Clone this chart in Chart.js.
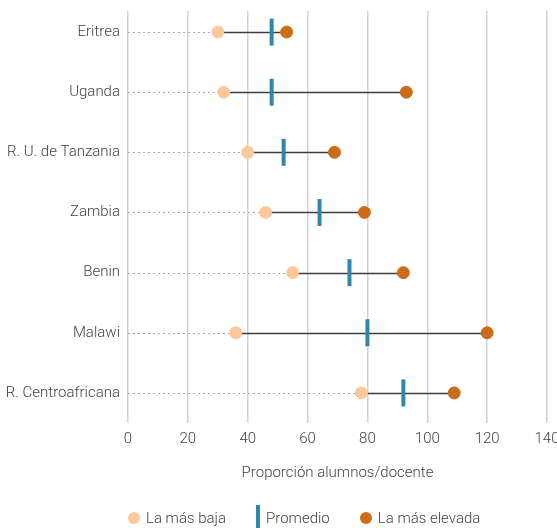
<!DOCTYPE html>
<html>
<head>
<meta charset="utf-8">
<script src="https://cdn.jsdelivr.net/npm/chart.js@4"></script>
<style>
  body { margin: 0; background: #fff; }
  #wrap { position: relative; width: 557px; height: 528px; }
  #legend {
    position: absolute; left: 128px; top: 505px; height: 26px;
    display: flex; align-items: center;
    font: 300 15px "Roboto", sans-serif; color: #444;
  }
  #legend .item { display: flex; align-items: center; margin-right: 30px; }
  #legend .dot { width: 12px; height: 12px; border-radius: 50%; margin-right: 6px; }
  #legend .bar { width: 4px; height: 26px; margin-right: 6px; }
</style>
</head>
<body>
<div id="wrap">
  <canvas id="chart" width="557" height="528"></canvas>
  <div id="legend"></div>
</div>
<script>
const countries = ["Eritrea", "Uganda", "R. U. de Tanzania", "Zambia", "Benin", "Malawi", "R. Centroafricana"];
const lowest = [30, 32, 40, 46, 55, 36, 78];
const average = [48, 48, 52, 64, 74, 80, 92];
const highest = [53, 93, 69, 79, 92, 120, 109];

const seriesNames = ["La más baja", "Promedio", "La más elevada"];
const xTicks = [0, 20, 40, 60, 80, 100, 120, 140];

const colLow = '#fcc79a';
const colAvg = '#2e88aa';
const colHigh = '#cc6c19';
const FONT = { family: 'Roboto, sans-serif', size: 15, weight: '300' };

const pts = arr => arr.map((v, i) => ({x: v, y: i}));

// dotted guide from zero to the lowest value, solid range line up to the highest
const rangeLines = {
  id: 'rangeLines',
  beforeDatasetsDraw(chart) {
    const c = chart.ctx, xs = chart.scales.x, ys = chart.scales.y;
    c.save();
    countries.forEach((name, i) => {
      const y = Math.round(ys.getPixelForValue(i)) + 0.5;
      c.lineWidth = 1;
      c.strokeStyle = '#a8a8a8';
      c.setLineDash([2, 3]);
      c.beginPath();
      c.moveTo(xs.getPixelForValue(0), y);
      c.lineTo(xs.getPixelForValue(lowest[i]), y);
      c.stroke();
      c.setLineDash([]);
      c.lineWidth = 1.5;
      c.strokeStyle = '#3d3d3d';
      c.beginPath();
      c.moveTo(xs.getPixelForValue(lowest[i]), y);
      c.lineTo(xs.getPixelForValue(highest[i]), y);
      c.stroke();
    });
    c.restore();
  }
};

new Chart(document.getElementById('chart'), {
  type: 'scatter',
  data: {
    datasets: [
      {
        label: seriesNames[0], data: pts(lowest),
        backgroundColor: colLow, borderColor: colLow, pointRadius: 6, borderWidth: 1
      },
      {
        label: seriesNames[1], data: pts(average),
        pointStyle: 'line', rotation: 90, pointRadius: 13.5,
        borderColor: colAvg, backgroundColor: colAvg, borderWidth: 4
      },
      {
        label: seriesNames[2], data: pts(highest),
        backgroundColor: colHigh, borderColor: colHigh, pointRadius: 6, borderWidth: 1
      }
    ]
  },
  options: {
    responsive: false,
    animation: false,
    events: [],
    layout: { autoPadding: false, padding: { top: 11, right: 10, bottom: 46, left: 7 } },
    plugins: { legend: { display: false }, tooltip: { enabled: false } },
    scales: {
      x: {
        type: 'linear', min: 0, max: 140,
        afterBuildTicks: s => { s.ticks = xTicks.map(v => ({value: v})); },
        afterFit: s => { s.paddingRight = 0; s.paddingLeft = 0; },
        grid: { color: '#d2d2d2', lineWidth: 1.5, drawTicks: false },
        border: { display: false },
        ticks: { padding: 7, color: '#444', font: FONT },
        title: {
          display: true, text: 'Proporción alumnos/docente', color: '#444',
          padding: { top: 9, bottom: 0 }, font: FONT
        }
      },
      y: {
        type: 'linear', reverse: true, min: -0.35, max: 6.5,
        afterBuildTicks: s => { s.ticks = countries.map((c, i) => ({value: i})); },
        afterFit: s => { s.paddingTop = 0; s.paddingBottom = 0; s.width = 121; },
        grid: { display: false, drawTicks: false },
        border: { display: false },
        ticks: {
          padding: 8, color: '#444', font: FONT,
          callback: v => countries[v]
        }
      }
    }
  },
  plugins: [rangeLines]
});

// legend
const legend = document.getElementById('legend');
[[seriesNames[0], 'dot', colLow], [seriesNames[1], 'bar', colAvg], [seriesNames[2], 'dot', colHigh]]
  .forEach(([txt, kind, col]) => {
    const it = document.createElement('div');
    it.className = 'item';
    it.innerHTML = '<span class="' + kind + '" style="background:' + col + '"></span><span>' + txt + '</span>';
    legend.appendChild(it);
  });
</script>
</body>
</html>
